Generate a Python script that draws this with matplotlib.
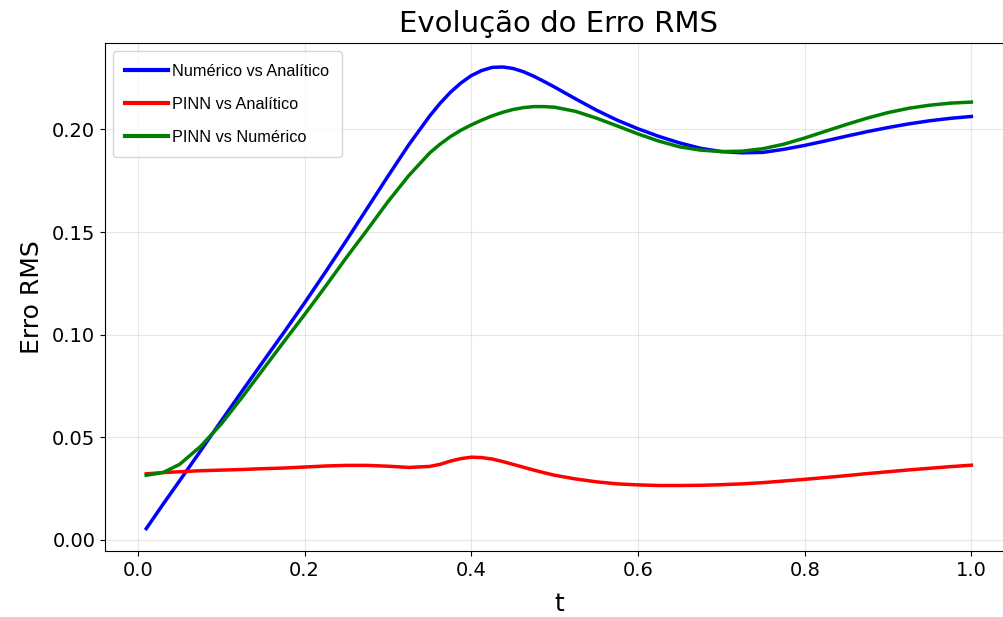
import matplotlib
matplotlib.use("Agg")
import matplotlib.pyplot as plt

# tempo
t = [0.01, 0.03, 0.05, 0.075, 0.1, 0.125, 0.15, 0.175, 0.2, 0.225,
     0.25, 0.275, 0.3, 0.325, 0.35, 0.3625, 0.375, 0.3875, 0.4, 0.4125,
     0.425, 0.4375, 0.45, 0.4625, 0.475, 0.4875, 0.5, 0.525, 0.55, 0.575,
     0.6, 0.625, 0.65, 0.675, 0.7, 0.725, 0.75, 0.775, 0.8, 0.825,
     0.85, 0.875, 0.9, 0.925, 0.95, 0.975, 1.0]

# erro RMS - numerico vs analitico
err_num_ana = [0.0055, 0.0173, 0.0288, 0.0433, 0.058, 0.0725, 0.0868, 0.101, 0.1155, 0.1305,
               0.1458, 0.1615, 0.1772, 0.1925, 0.2065, 0.2127, 0.2181, 0.2226, 0.2262, 0.2287,
               0.2302, 0.2304, 0.2297, 0.2281, 0.2259, 0.2233, 0.2206, 0.2149, 0.2094, 0.2045,
               0.2003, 0.1966, 0.1934, 0.1908, 0.1892, 0.1886, 0.1888, 0.1903, 0.1922, 0.1944,
               0.1967, 0.1989, 0.2009, 0.2027, 0.2042, 0.2054, 0.2063]

# erro RMS - PINN vs analitico
err_pinn_ana = [0.0322, 0.0328, 0.0332, 0.0337, 0.034, 0.0343, 0.0347, 0.035, 0.0355, 0.036,
                0.0363, 0.0363, 0.0359, 0.0353, 0.0358, 0.0368, 0.0384, 0.0396, 0.0403, 0.0401,
                0.0394, 0.0382, 0.0368, 0.0354, 0.034, 0.0327, 0.0315, 0.0297, 0.0283, 0.0273,
                0.0268, 0.0265, 0.0265, 0.0266, 0.0269, 0.0273, 0.0279, 0.0287, 0.0295, 0.0304,
                0.0313, 0.0323, 0.0332, 0.0341, 0.0349, 0.0357, 0.0364]

# erro RMS - PINN vs numerico
err_pinn_num = [0.0315, 0.0328, 0.0368, 0.0455, 0.0565, 0.0695, 0.083, 0.0965, 0.1098, 0.1235,
                0.1375, 0.151, 0.1648, 0.1775, 0.1885, 0.1928, 0.1965, 0.1996, 0.2022, 0.2045,
                0.2066, 0.2083, 0.2097, 0.2106, 0.2111, 0.2111, 0.2108, 0.2088, 0.2055, 0.2017,
                0.1978, 0.1943, 0.1915, 0.1899, 0.1892, 0.1894, 0.1906, 0.1928, 0.1958, 0.1991,
                0.2024, 0.2055, 0.2082, 0.2103, 0.2118, 0.2128, 0.2133]

fig = plt.figure(figsize=(10.04, 6.17), dpi=100)
ax = fig.add_axes([0.1046, 0.107, 0.904, 0.823])

ax.plot(t, err_num_ana, color='blue', lw=2.5, label='Numérico vs Analítico')
ax.plot(t, err_pinn_ana, color='red', lw=2.5, label='PINN vs Analítico')
ax.plot(t, err_pinn_num, color='green', lw=2.5, label='PINN vs Numérico')

ax.set_xlim(-0.0395, 1.0495)
ax.set_ylim(-0.0054, 0.242)
ax.set_title('Evolução do Erro RMS', fontsize=21, pad=8)
ax.set_xlabel('t', fontsize=18, labelpad=9)
ax.set_ylabel('Erro RMS', fontsize=18, labelpad=6)
ax.tick_params(labelsize=14)
ax.grid(True, alpha=0.3)
leg = ax.legend(loc='upper left', prop={'family': 'Liberation Sans', 'size': 11.7},
                labelspacing=1.12, handlelength=2.6, handletextpad=0.3, borderpad=0.75)
for h in leg.get_lines():
    h.set_linewidth(3)

fig.savefig('out.png', dpi=100)
